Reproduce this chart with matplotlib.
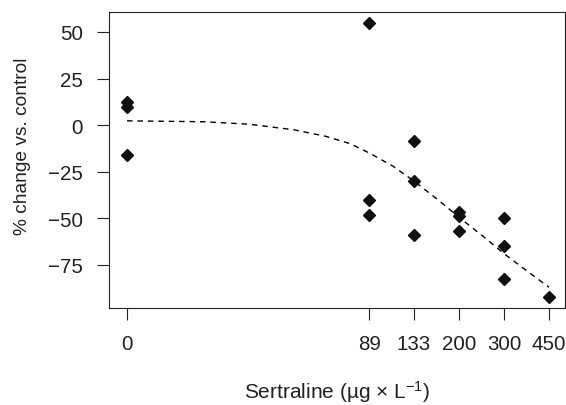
import matplotlib
matplotlib.use('Agg')
from matplotlib import pyplot as plt
from matplotlib.ticker import FixedLocator, FixedFormatter, NullLocator

plt.rcParams['font.family'] = ['Liberation Sans', 'DejaVu Sans']
plt.rcParams['mathtext.fontset'] = 'custom'
plt.rcParams['mathtext.rm'] = 'Liberation Sans'
plt.rcParams['mathtext.it'] = 'Liberation Sans:italic'

# sertraline concentration (ug/L) and % change vs. control for each replicate
conc = [0, 0, 0, 89, 89, 89, 133, 133, 133, 200, 200, 200, 300, 300, 300, 450]
pct_change = [12.3, 9.7, -16.0, 54.7, -40.0, -48.0, -8.5, -30.0, -58.8,
              -46.5, -49.0, -57.0, -50.0, -64.7, -82.4, -92.2]

# fitted dose-response curve
fit_conc = [0, 20, 30, 45, 60, 75, 89, 110, 133, 165, 200, 250, 300, 375, 450]
fit_pct = [2.3, 1.8, 0.5, -2.5, -6.0, -10.0, -15.0, -22.0, -30.0, -40.0,
           -49.5, -60.0, -69.0, -79.0, -87.0]

tick_conc = [0, 89, 133, 200, 300, 450]
y_ticks = [50, 25, 0, -25, -50, -75]

# the log axis has no zero, so the control group sits where 10 ug/L would be
ZERO_POS = 10


def axis_x(values):
    return [ZERO_POS if v == 0 else v for v in values]


fig = plt.figure(figsize=(5.66, 4.06), dpi=100)
ax = fig.add_axes([0.1926, 0.2382, 0.8057, 0.7298])

ax.plot(axis_x(fit_conc), fit_pct, color='black', lw=1.0, dashes=(4, 3.5))
ax.plot(axis_x(conc), pct_change, linestyle='none', marker='D', ms=5.8,
        color='#111111')

ax.set_xscale('log')
ax.set_xlim(8.5, 520)
ax.set_ylim(-98.3, 60.7)
ax.xaxis.set_major_locator(FixedLocator(axis_x(tick_conc)))
ax.xaxis.set_major_formatter(FixedFormatter([str(c) for c in tick_conc]))
ax.xaxis.set_minor_locator(NullLocator())
ax.set_yticks(y_ticks)
ax.set_yticklabels([str(v).replace('-', '\u2212') for v in y_ticks])

ax.tick_params(axis='both', direction='out', length=8.7, width=0.8,
               color='#222222', labelsize=14.8, labelcolor='#222222')
ax.tick_params(axis='x', pad=10)
ax.tick_params(axis='y', pad=10)
for s in ax.spines.values():
    s.set_linewidth(0.8)
    s.set_color('#222222')

fig.text(337 / 566, 1 - 392 / 406, r'Sertraline (µg × L$^{\mathregular{-1}}$)',
         ha='center', va='center', fontsize=15, color='#222222')
fig.text(23 / 566, 1 - 146.5 / 406, '% change vs. control', rotation=90,
         ha='center', va='center', fontsize=13.8, color='#222222')

fig.savefig('out.png', dpi=100)
